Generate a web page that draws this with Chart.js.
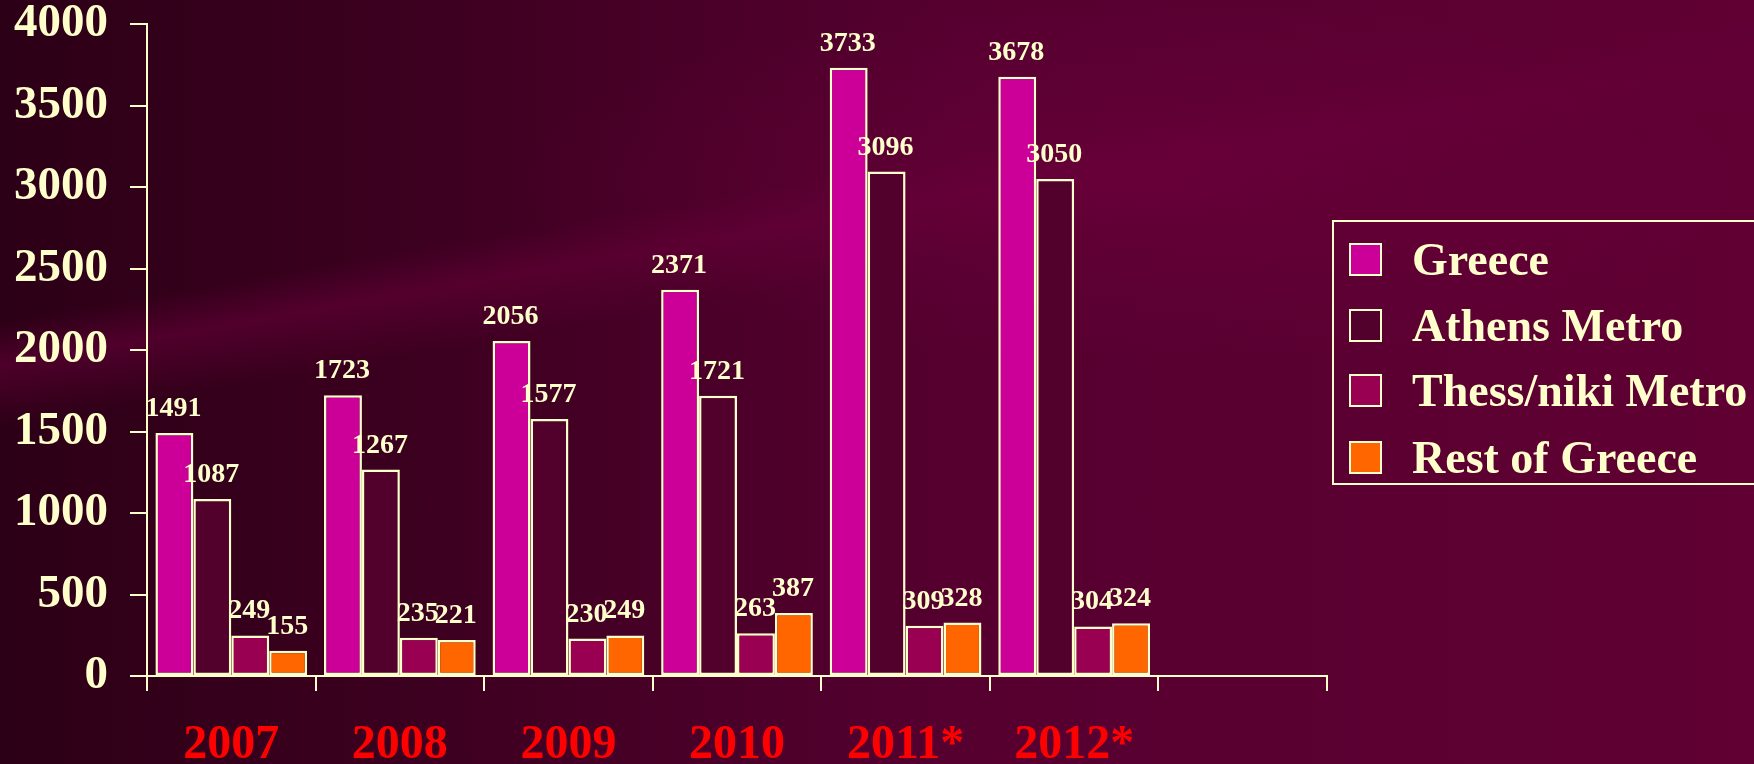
<!DOCTYPE html>
<html>
<head>
<meta charset="utf-8">
<script src="https://cdn.jsdelivr.net/npm/chart.js@4.4.0/dist/chart.umd.min.js"></script>
<style>
    html, body { margin: 0; padding: 0; }
    body {
        width: 1754px; height: 764px; overflow: hidden; position: relative;
        background:
            radial-gradient(ellipse 900px 260px at 1150px 180px, rgba(110,0,60,0.55), rgba(110,0,60,0) 70%),
            linear-gradient(170deg, rgba(0,0,0,0) 30%, rgba(100,0,55,0.6) 34%, rgba(0,0,0,0) 40%),
            linear-gradient(90deg, #2c0016 0%, #3d0020 25%, #560030 55%, #600033 100%);
    }
    #wrap { position: absolute; left: 0; top: 0; width: 1754px; height: 764px; }
    #legend {
        position: absolute; left: 1332px; top: 220px; width: 420px; height: 261px;
        border: 2px solid #FFFFCC;
        font-family: "Liberation Serif", "Times New Roman", serif; font-weight: bold;
        font-size: 46px; color: #FFFFCC;
    }
    .item { position: absolute; left: 15px; height: 50px; display: flex; align-items: center; white-space: nowrap; }
    .box { width: 29px; height: 29px; border: 2px solid #FFFFCC; margin-right: 30px; }
</style>
</head>
<body>
<div id="wrap"><canvas id="chart" width="1754" height="764"></canvas></div>
<div id="legend"></div>
<script>
const years = ['2007', '2008', '2009', '2010', '2011*', '2012*', '']
const greece = [1491, 1723, 2056, 2371, 3733, 3678, null]
const athens = [1087, 1267, 1577, 1721, 3096, 3050, null]
const thess = [249, 235, 230, 263, 309, 304, null]
const rest = [155, 221, 249, 387, 328, 324, null]
const seriesNames = ['Greece', 'Athens Metro', 'Thess/niki Metro', 'Rest of Greece']
const seriesColors = ['#CC0099', '#52002C', '#990052', '#FF6600']

const cream = '#FFFFCC'
const serif = '"Liberation Serif", "Times New Roman", serif'

// 막대 위 값 표시
const valueLabels = {
    id: 'valueLabels',
    afterDatasetsDraw(chart) {
        const ctx = chart.ctx
        ctx.save()
        ctx.fillStyle = cream
        ctx.font = 'bold 28px ' + serif
        ctx.textAlign = 'center'
        ctx.textBaseline = 'alphabetic'
        chart.data.datasets.forEach(function (ds, i) {
            chart.getDatasetMeta(i).data.forEach(function (bar, j) {
                if (ds.data[j] === null) return
                ctx.fillText(ds.data[j], bar.x - 1, bar.y - 17)
            })
        })
        ctx.restore()
    }
}

const allSeries = [greece, athens, thess, rest]
const datasets = allSeries.map(function (values, i) {
    return {
        label: seriesNames[i],
        data: values,
        backgroundColor: seriesColors[i],
        borderColor: cream,
        borderWidth: 2.5,
        borderSkipped: false,
        categoryPercentage: 0.9,
        barPercentage: 1.0
    }
})

new Chart(document.getElementById('chart').getContext('2d'), {
    type: 'bar',
    data: { labels: years, datasets: datasets },
    options: {
        responsive: false,
        animation: false,
        layout: { padding: { top: 0, right: 427, left: 0, bottom: 0 } },
        plugins: { legend: { display: false }, tooltip: { enabled: false } },
        scales: {
            x: {
                grid: { display: true, drawOnChartArea: false, offset: true, color: cream, lineWidth: 2, tickLength: 15 },
                border: { display: true, color: cream, width: 2 },
                ticks: { color: '#FF0000', font: { family: serif, size: 48, weight: 'bold' }, padding: 26, maxRotation: 0 },
                afterFit: function (scale) { scale.height = 88 }
            },
            y: {
                min: 0, max: 4000,
                ticks: {
                    stepSize: 500, color: cream, padding: 22,
                    font: { family: serif, size: 47, weight: 'bold', lineHeight: 0.1 },
                    callback: function (v) { return String(v) }
                },
                grid: { display: true, drawOnChartArea: false, color: cream, lineWidth: 2, tickLength: 17 },
                border: { display: true, color: cream, width: 2 },
                afterFit: function (scale) { scale.width = 147 }
            }
        }
    },
    plugins: [valueLabels]
})

// 범례
const legendDiv = document.getElementById('legend')
const rowTops = [12, 78, 143, 210]
seriesNames.forEach(function (name, i) {
    const item = document.createElement('div')
    item.className = 'item'
    item.style.top = rowTops[i] + 'px'
    item.innerHTML = "<div class='box' style='background:" + seriesColors[i] + "'></div>" + name
    legendDiv.append(item)
})
</script>
</body>
</html>
